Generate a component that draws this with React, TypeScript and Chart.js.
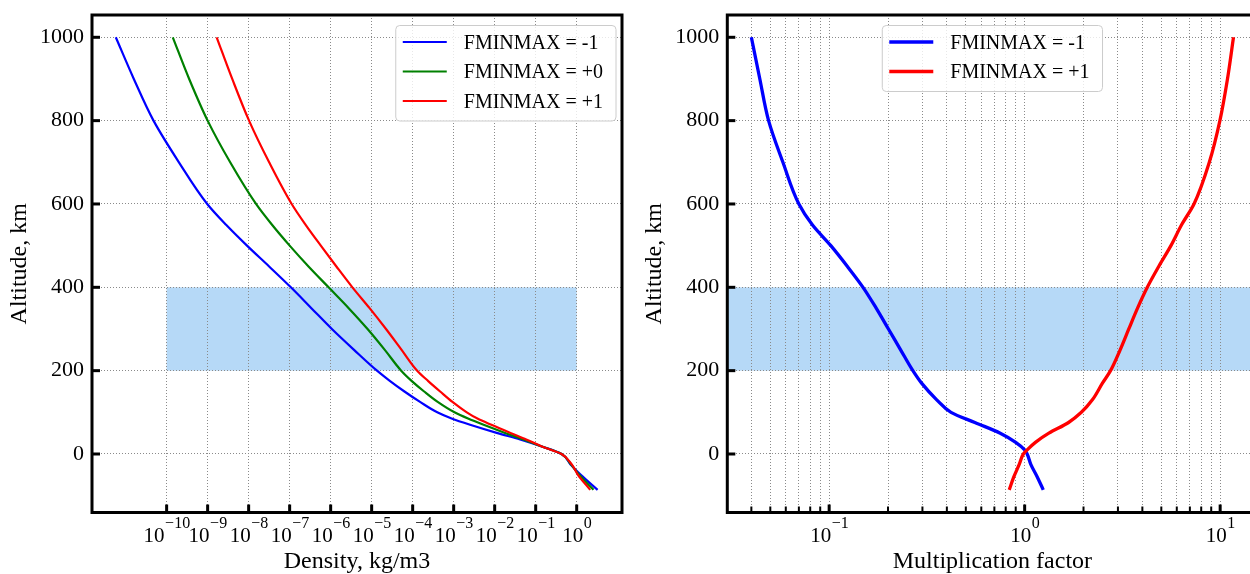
import React, { useEffect, useRef } from 'react';
import { Chart, registerables } from 'chart.js';

Chart.register(...registerables);

const FONT = "'Liberation Serif', 'Times New Roman', serif";

// ---------- Left panel: density profiles (log10 of kg/m3) ----------
const densityAltitudes = [1000, 900, 800, 700, 600, 550, 500, 450, 400, 350, 300, 250, 200, 175, 150, 125, 100, 85, 70, 50, 35, 18, 0, -25, -50, -86];
const densityExpMinus1 = [-11.24, -10.8, -10.32, -9.7, -9.01, -8.55, -8.04, -7.5, -6.97, -6.47, -5.97, -5.43, -4.87, -4.55, -4.2, -3.82, -3.4, -3.05, -2.6, -1.93, -1.38, -0.85, -0.37, -0.15, 0.1, 0.51];
const densityExpZero = [-9.85, -9.45, -9.0, -8.45, -7.82, -7.43, -7.0, -6.54, -6.05, -5.56, -5.1, -4.68, -4.28, -4.02, -3.72, -3.39, -2.98, -2.65, -2.27, -1.73, -1.3, -0.85, -0.37, -0.14, 0.06, 0.41];
const densityExpPlus1 = [-8.78, -8.4, -7.99, -7.5, -6.95, -6.61, -6.24, -5.86, -5.47, -5.05, -4.65, -4.27, -3.89, -3.62, -3.33, -3.03, -2.68, -2.42, -2.08, -1.6, -1.23, -0.85, -0.37, -0.12, 0.03, 0.33];
const densityTickExponents = [-10, -9, -8, -7, -6, -5, -4, -3, -2, -1, 0];
const densityBand = [1e-10, 1];

// ---------- Right panel: multiplication factor ----------
const factorAltitudes = [1000, 900, 800, 700, 600, 550, 500, 450, 400, 350, 300, 250, 200, 170, 130, 100, 75, 50, 28, 10, 0, -25, -55, -86];
const factorMinus1 = [0.04, 0.0442, 0.049, 0.058, 0.07, 0.082, 0.102, 0.124, 0.149, 0.174, 0.201, 0.232, 0.268, 0.297, 0.355, 0.42, 0.56, 0.75, 0.9, 1.0, 1.03, 1.075, 1.16, 1.245];
const factorPlus1 = [11.7, 10.9, 9.97, 8.8, 7.35, 6.35, 5.6, 4.85, 4.24, 3.78, 3.41, 3.08, 2.75, 2.5, 2.22, 1.95, 1.67, 1.33, 1.135, 1.03, 0.985, 0.938, 0.88, 0.834];
const factorMajorTicks = [0.1, 1, 10];
const factorMinorTicks = [0.04, 0.05, 0.06, 0.07, 0.08, 0.09, 0.2, 0.3, 0.4, 0.5, 0.6, 0.7, 0.8, 0.9, 2, 3, 4, 5, 6, 7, 8, 9];

// ---------- Shared ----------
const altitudeTicks = [0, 200, 400, 600, 800, 1000];
const bandAltitudes = [200, 400];
const labelsLeft = ['FMINMAX = -1', 'FMINMAX = +0', 'FMINMAX = +1'];
const labelsRight = ['FMINMAX = -1', 'FMINMAX = +1'];
const altitudeTitle = 'Altitude, km';
const densityTitle = 'Density, kg/m3';
const factorTitle = 'Multiplication factor';

const BLUE = '#0000ff';
const GREEN = '#008000';
const RED = '#ff0000';
const BAND = 'rgb(182, 217, 247)';
const GRID = '#8a8a8a';

type PanelCfg = {
  bandX: number[] | null;
  majorTicks: number[];
  minorTicks: number[];
  xTitle: string;
  legendAlign: 'right' | 'center';
};

function pointsOf(alts: number[], xs: number[]) {
  return alts.map((a, i) => ({ x: xs[i], y: a }));
}

function drawPower(ctx: CanvasRenderingContext2D, px: number, value: number, baseY: number) {
  const exp = Math.round(Math.log10(value));
  const base = '10';
  const sup = exp < 0 ? '\u2212' + Math.abs(exp) : String(exp);
  ctx.font = `21px ${FONT}`;
  const wb = ctx.measureText(base).width;
  ctx.font = `16px ${FONT}`;
  const ws = ctx.measureText(sup).width;
  const x0 = px - (wb + ws) / 2;
  ctx.textAlign = 'left';
  ctx.textBaseline = 'alphabetic';
  ctx.fillStyle = '#000';
  ctx.font = `21px ${FONT}`;
  ctx.fillText(base, x0, baseY);
  ctx.font = `16px ${FONT}`;
  ctx.fillText(sup, x0 + wb + 0.5, baseY - 14);
}

function panelPlugin(cfg: PanelCfg) {
  return {
    id: 'panelDecor',
    beforeDraw(chart: any) {
      const { ctx, chartArea: a, scales } = chart;
      const x = scales.x;
      const y = scales.y;
      const x0 = cfg.bandX ? x.getPixelForValue(cfg.bandX[0]) : a.left;
      const x1 = cfg.bandX ? x.getPixelForValue(cfg.bandX[1]) : a.right;
      const yTop = y.getPixelForValue(bandAltitudes[1]);
      const yBot = y.getPixelForValue(bandAltitudes[0]);
      ctx.save();
      ctx.fillStyle = BAND;
      ctx.fillRect(x0, yTop, x1 - x0, yBot - yTop);
      ctx.restore();
    },
    afterDraw(chart: any) {
      const { ctx, chartArea: a, scales } = chart;
      const x = scales.x;
      const y = scales.y;
      ctx.save();
      ctx.strokeStyle = '#000';
      ctx.lineWidth = 3;
      ctx.strokeRect(a.left, a.top, a.right - a.left, a.bottom - a.top);
      altitudeTicks.forEach((v) => {
        const py = y.getPixelForValue(v);
        ctx.lineWidth = 3;
        ctx.beginPath();
        ctx.moveTo(a.left, py);
        ctx.lineTo(a.left + 8, py);
        ctx.stroke();
      });
      cfg.majorTicks.forEach((v) => {
        const px = x.getPixelForValue(v);
        ctx.lineWidth = 3;
        ctx.beginPath();
        ctx.moveTo(px, a.bottom);
        ctx.lineTo(px, a.bottom - 8);
        ctx.stroke();
      });
      cfg.minorTicks.forEach((v) => {
        const px = x.getPixelForValue(v);
        ctx.lineWidth = 2;
        ctx.beginPath();
        ctx.moveTo(px, a.bottom);
        ctx.lineTo(px, a.bottom - 6);
        ctx.stroke();
      });
      cfg.majorTicks.forEach((v) => drawPower(ctx, x.getPixelForValue(v), v, 542));
      ctx.fillStyle = '#000';
      ctx.font = `24px ${FONT}`;
      ctx.textAlign = 'center';
      ctx.textBaseline = 'alphabetic';
      ctx.fillText(cfg.xTitle, (a.left + a.right) / 2, 568);
      ctx.save();
      ctx.translate(a.left - 66, (a.top + a.bottom) / 2);
      ctx.rotate(-Math.PI / 2);
      ctx.fillText(altitudeTitle, 0, 0);
      ctx.restore();
      const ds = chart.data.datasets;
      ctx.font = `20px ${FONT}`;
      let maxW = 0;
      ds.forEach((d: any) => { maxW = Math.max(maxW, ctx.measureText(d.label).width); });
      const boxW = 7 + 44 + 17 + maxW + 13;
      const rowStart = 16.5;
      const rowGap = 29.5;
      const boxH = rowStart + rowGap * (ds.length - 1) + 20;
      const boxX = cfg.legendAlign === 'right' ? a.right - 6 - boxW : (a.left + a.right) / 2 - boxW / 2;
      const boxY = a.top + 10.5;
      ctx.beginPath();
      ctx.roundRect(boxX, boxY, boxW, boxH, 4);
      ctx.fillStyle = 'rgba(255,255,255,0.8)';
      ctx.fill();
      ctx.lineWidth = 1;
      ctx.strokeStyle = '#cccccc';
      ctx.stroke();
      ds.forEach((d: any, i: number) => {
        const ry = boxY + rowStart + i * rowGap;
        ctx.strokeStyle = d.borderColor;
        ctx.lineWidth = d.borderWidth;
        ctx.beginPath();
        ctx.moveTo(boxX + 7, ry);
        ctx.lineTo(boxX + 51, ry);
        ctx.stroke();
        ctx.fillStyle = '#000';
        ctx.textAlign = 'left';
        ctx.textBaseline = 'alphabetic';
        ctx.fillText(d.label, boxX + 68, ry + 6.8);
      });
      ctx.restore();
    },
  };
}

function makeConfig(opts: {
  datasets: any[];
  xMin: number;
  xMax: number;
  gridX: number[];
  padding: any;
  cfg: PanelCfg;
}): any {
  const noPad = (s: any) => {
    s.paddingTop = 0;
    s.paddingBottom = 0;
    s.paddingLeft = 0;
    s.paddingRight = 0;
  };
  return {
    type: 'line',
    data: { datasets: opts.datasets },
    options: {
      responsive: false,
      animation: false,
      events: [],
      indexAxis: 'y',
      layout: { padding: opts.padding },
      elements: { point: { radius: 0 } },
      plugins: { legend: { display: false }, tooltip: { enabled: false } },
      scales: {
        x: {
          type: 'logarithmic',
          position: 'bottom',
          min: opts.xMin,
          max: opts.xMax,
          afterBuildTicks: (s: any) => { s.ticks = opts.gridX.map((v) => ({ value: v })); },
          afterFit: (s: any) => { s.height = 0; noPad(s); },
          grid: { color: GRID, lineWidth: 1, drawTicks: false },
          border: { display: false, dash: [1, 2] },
          ticks: { display: false },
        },
        y: {
          type: 'linear',
          position: 'left',
          min: -140.4,
          max: 1053.5,
          afterBuildTicks: (s: any) => { s.ticks = altitudeTicks.map((v) => ({ value: v })); },
          afterFit: (s: any) => { s.width = 80; noPad(s); },
          grid: { color: GRID, lineWidth: 1, drawTicks: false },
          border: { display: false, dash: [1, 2] },
          ticks: {
            color: '#000',
            padding: 8,
            font: { family: FONT, size: 22 },
            callback: (v: any) => String(v),
          },
        },
      },
    },
    plugins: [panelPlugin(opts.cfg)],
  };
}

export default function App() {
  const leftRef = useRef<HTMLCanvasElement>(null);
  const rightRef = useRef<HTMLCanvasElement>(null);

  useEffect(() => {
    const line = (label: string, color: string, pts: any[], width: number, order: number) => ({
      label,
      data: pts,
      borderColor: color,
      backgroundColor: color,
      borderWidth: width,
      fill: false,
      cubicInterpolationMode: 'monotone',
      pointRadius: 0,
      order,
    });

    const densityTicks = densityTickExponents.map((e) => Math.pow(10, e));
    const left = new Chart(leftRef.current as HTMLCanvasElement, makeConfig({
      datasets: [
        line(labelsLeft[0], BLUE, pointsOf(densityAltitudes, densityExpMinus1.map((e) => Math.pow(10, e))), 2.2, 2),
        line(labelsLeft[1], GREEN, pointsOf(densityAltitudes, densityExpZero.map((e) => Math.pow(10, e))), 2.2, 1),
        line(labelsLeft[2], RED, pointsOf(densityAltitudes, densityExpPlus1.map((e) => Math.pow(10, e))), 2.2, 0),
      ],
      xMin: Math.pow(10, -11.82),
      xMax: Math.pow(10, 1.105),
      gridX: densityTicks,
      padding: { left: 12, top: 15, right: 18, bottom: 61.5 },
      cfg: {
        bandX: densityBand,
        majorTicks: densityTicks,
        minorTicks: [],
        xTitle: densityTitle,
        legendAlign: 'right',
      },
    }));

    const right = new Chart(rightRef.current as HTMLCanvasElement, makeConfig({
      datasets: [
        line(labelsRight[0], BLUE, pointsOf(factorAltitudes, factorMinus1), 3.3, 1),
        line(labelsRight[1], RED, pointsOf(factorAltitudes, factorPlus1), 3.3, 0),
      ],
      xMin: Math.pow(10, -1.521),
      xMax: Math.pow(10, 1.191),
      gridX: [...factorMinorTicks, ...factorMajorTicks].sort((a, b) => a - b),
      padding: { left: 7.3, top: 15, right: 22.5, bottom: 61.5 },
      cfg: {
        bandX: null,
        majorTicks: factorMajorTicks,
        minorTicks: factorMinorTicks,
        xTitle: factorTitle,
        legendAlign: 'center',
      },
    }));

    return () => {
      left.destroy();
      right.destroy();
    };
  }, []);

  return (
    <div style={{ position: 'fixed', left: 0, top: 0, width: 1250, height: 574, overflow: 'hidden', background: '#ffffff' }}>
      <canvas ref={leftRef} width={640} height={574} style={{ position: 'absolute', left: 0, top: 0, width: 640, height: 574 }} />
      <canvas ref={rightRef} width={640} height={574} style={{ position: 'absolute', left: 640, top: 0, width: 640, height: 574 }} />
    </div>
  );
}
